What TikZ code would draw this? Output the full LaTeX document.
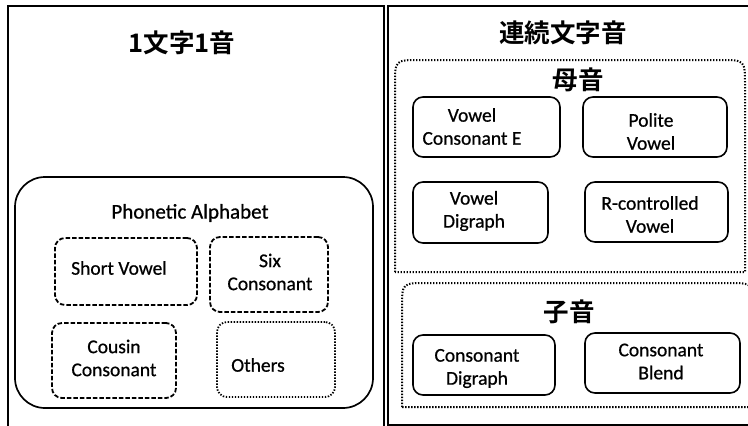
\documentclass[tikz,border=0pt]{standalone}
\usepackage{fontspec}
\setmainfont{Carlito}[FakeBold=0.7]
\newfontfamily\jp{Noto Sans CJK JP}[BoldFont={Noto Sans CJK JP Bold}]
\begin{document}
\begin{tikzpicture}[x=1pt,y=-1pt,
  panel/.style={draw, line width=1.8pt},
  dashbox/.style={draw, line width=1.8pt, dash pattern=on 4.5pt off 2pt, rounded corners=10pt, inner sep=0pt},
  dotbox/.style={draw, line width=2pt, dash pattern=on 1.4pt off 1.6pt},
  solidbox/.style={draw, line width=1.6pt, rounded corners=10pt, inner sep=0pt},
  lbl/.style={font=\fontsize{19.5}{23}\selectfont, align=center, inner sep=0pt},
  ttl/.style={font=\jp\bfseries\fontsize{25.5}{30}\selectfont, inner sep=0pt}]
\useasboundingbox (0,0) rectangle (748,426);
% panels
\node[panel, minimum width=376pt, minimum height=425pt, inner sep=0pt, anchor=north west] (lp) at (7,5) {};
\node[panel, minimum width=365pt, minimum height=419pt, inner sep=0pt, anchor=north west] (rp) at (387,5) {};
% left title
\node[ttl] (lt) at (182,43) {1文字1音};
% phonetic alphabet container
\node[draw, line width=1.7pt, rounded corners=30pt, minimum width=358pt, minimum height=231pt, inner sep=0pt] (pa) at (194,292.5) {};
\node[lbl, font=\fontsize{21}{25}\selectfont] (pat) at (190,213) {Phonetic Alphabet};
\node[dashbox, minimum width=142pt, minimum height=67pt] (sv) at (126,271.5) {};
\node[lbl] (svt) at (119,268) {Short Vowel};
\node[dashbox, minimum width=118pt, minimum height=75pt] (sc) at (269,274.5) {};
\node[lbl] (sct) at (270,272) {Six\\Consonant};
\node[dashbox, minimum width=124pt, minimum height=75pt] (cc) at (114,360.5) {};
\node[lbl] (cct) at (114,358) {Cousin\\Consonant};
\node[draw, line width=1.8pt, dash pattern=on 1.4pt off 1.6pt, rounded corners=10pt, inner sep=0pt, minimum width=118pt, minimum height=75pt] (ot) at (276,359.5) {};
\node[lbl] (ott) at (258,365) {Others};
% right title
\node[ttl] (rt) at (563,33) {連続文字音};
% vowel container
\draw[dotbox] (395,272) -- (395,85) .. controls (395,60) .. (420,60) -- (720,60) .. controls (745,60) .. (745,85) -- (745,272) -- cycle;
\node[ttl] (bo) at (578,80) {母音};
\node[solidbox, minimum width=147pt, minimum height=60pt] (vce) at (486.5,127) {};
\node[lbl] (vcet) at (472,126.5) {Vowel\\Consonant E};
\node[solidbox, minimum width=144pt, minimum height=60pt] (pv) at (655,127) {};
\node[lbl] (pvt) at (651,131.5) {Polite\\Vowel};
\node[solidbox, minimum width=135pt, minimum height=61pt] (vd) at (480.5,212.5) {};
\node[lbl] (vdt) at (474,211) {Vowel\\Digraph};
\node[solidbox, minimum width=143pt, minimum height=60pt] (rc) at (656.5,212) {};
\node[lbl] (rct) at (650,214.5) {R-controlled\\Vowel};
% consonant container
\draw[dotbox] (402,407) -- (402,308) .. controls (402,283) .. (427,283) -- (728,283) .. controls (752,283) .. (756,305) -- (756,407) -- cycle;
\node[ttl] (si) at (569,312) {子音};
\node[solidbox, minimum width=142pt, minimum height=60pt] (cd) at (484,365) {};
\node[lbl] (cdt) at (477,368.5) {Consonant\\Digraph};
\node[solidbox, minimum width=155pt, minimum height=60pt] (cb) at (662.5,363) {};
\node[lbl] (cbt) at (661,361.5) {Consonant\\Blend};
\end{tikzpicture}
\end{document}
